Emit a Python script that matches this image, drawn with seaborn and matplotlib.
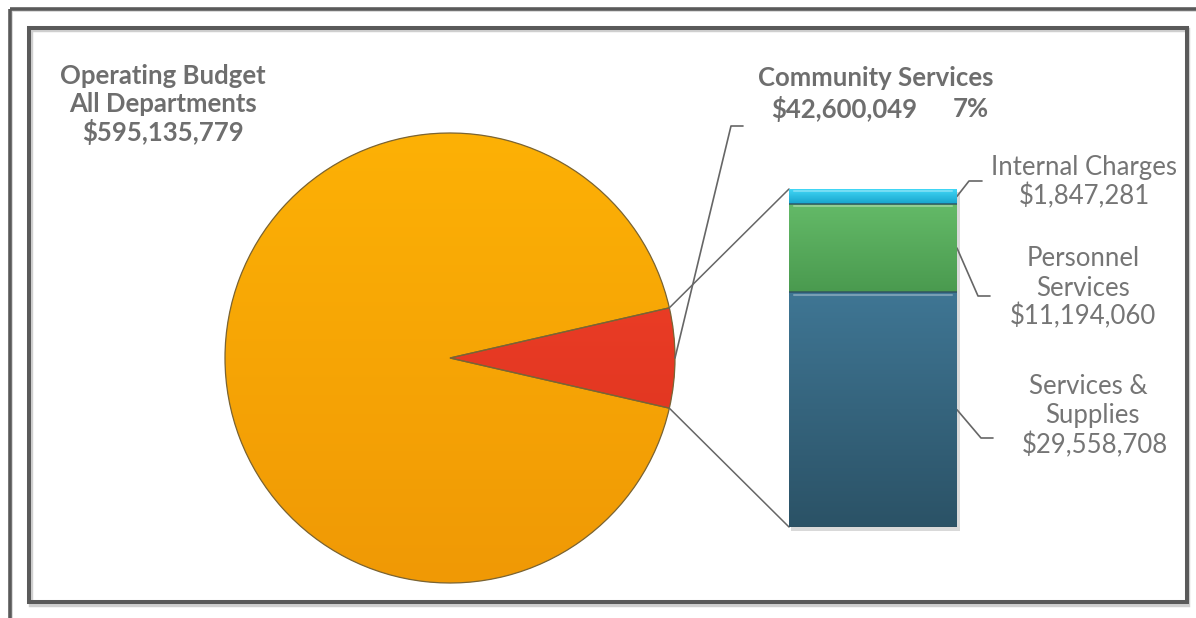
import numpy as np
import matplotlib
matplotlib.use("Agg")
import matplotlib.pyplot as plt
import seaborn as sns
import pandas as pd
from matplotlib.patches import Rectangle, Wedge
from matplotlib.colors import LinearSegmentedColormap

# ---- Budget figures -------------------------------------------------------
total_label = ["Operating Budget", "All Departments"]
total_budget = 595_135_779
department = "Community Services"
department_budget = 42_600_049

categories = ["Services & Supplies", "Personnel Services", "Internal Charges"]
amounts = [29_558_708, 11_194_060, 1_847_281]

# ---- Style ----------------------------------------------------------------
W, H = 1196, 618
sns.set_theme(style="white")
plt.rcParams["font.family"] = ["Lato", "DejaVu Sans"]

TEXT = "#6e6e6e"
LABEL = "#757575"
LEADER = "#666666"
FRAME = "#5a5a5a"
ORANGE = ("#fdb106", "#f09905")
RED = ("#f4432a", "#d8301d")
SEG_COLORS = ["#36657e", "#56a95b", "#2cc2ea"]
SEG_GRAD = [("#3f7694", "#2b5266"), ("#64ba68", "#4a9a4f"), ("#40d7f6", "#18a3cc")]
TITLE_SIZE = 18.5
LABEL_SIZE = 18.5

fig = plt.figure(figsize=(W / 100, H / 100), dpi=100)
fig.patch.set_facecolor("white")
ax = fig.add_axes([0, 0, 1, 1])

# ---- Frames (pixel coordinates, y grows downward) -------------------------
ax.plot([9.5, W + 5], [8.5, 8.5], color=FRAME, lw=2.6, solid_capstyle="butt", zorder=1)
ax.plot([9.5, 9.5], [8.5, H + 5], color=FRAME, lw=2.6, solid_capstyle="butt", zorder=1)
ax.plot([12, W + 5], [11, 11], color="#d4d4d4", lw=1.2, zorder=0.9)
ax.plot([12, 12], [11, H + 5], color="#d4d4d4", lw=1.2, zorder=0.9)
ax.add_patch(Rectangle((30.5, 29.5), 1158 - 0.5, 575, fill=False,
                       edgecolor="#cfcfcf", lw=3.2, zorder=0.9))
ax.add_patch(Rectangle((29, 28), 1158, 574, fill=False,
                       edgecolor=FRAME, lw=2.9, zorder=1))

# ---- Pie ------------------------------------------------------------------
cx, cy, R = 450, 358, 225
pie_values = [department_budget, total_budget - department_budget]
half = 360 * department_budget / total_budget / 2
wedges, _ = ax.pie(pie_values, colors=[RED[0], ORANGE[0]], startangle=-half,
                   center=(cx, cy), radius=R, frame=True,
                   wedgeprops=dict(edgecolor="none", linewidth=0))

grad = np.linspace(0, 1, 256).reshape(-1, 1)
for wedge, (c_top, c_bot) in zip(wedges, [RED, ORANGE]):
    cmap = LinearSegmentedColormap.from_list("shade", [c_top, c_bot])
    im = ax.imshow(grad, cmap=cmap, extent=[cx - R, cx + R, cy + R, cy - R],
                   origin="upper", aspect="auto", interpolation="bilinear",
                   zorder=2)
    im.set_clip_path(wedge)
    ax.add_patch(Wedge(wedge.center, wedge.r, wedge.theta1, wedge.theta2,
                       fill=False, edgecolor="#7a6434", lw=0.9, zorder=3))

# ---- Stacked bar -----------------------------------------------------------
BAR_L, BAR_R, BAR_TOP, BAR_BOT = 789, 957, 189, 527
bax = fig.add_axes([BAR_L / W, (H - BAR_BOT) / H, (BAR_R - BAR_L) / W,
                    (BAR_BOT - BAR_TOP) / H])
bax.set_facecolor("none")

df = pd.DataFrame({"group": department, "category": categories, "amount": amounts})
df["cum"] = df["amount"].cumsum()
df["base"] = df["cum"] - df["amount"]
stack_total = df["cum"].iloc[-1]

# Layered cumulative bars: tallest first, each shorter one drawn on top
for i in reversed(range(len(df))):
    sns.barplot(x=[department], y=[df["cum"].iloc[i]], color=SEG_COLORS[i],
                saturation=1, width=1.0, ax=bax, edgecolor="none", linewidth=0)

for i, (c_top, c_bot) in enumerate(SEG_GRAD):
    lo, hi = df["base"].iloc[i], df["cum"].iloc[i]
    cmap = LinearSegmentedColormap.from_list("shade", [c_top, c_bot])
    bax.imshow(grad, cmap=cmap, extent=[-0.5, 0.5, lo, hi], origin="upper",
               aspect="auto", interpolation="bilinear", zorder=3)
    # bevel: light top edge and darker bottom edge of each segment
    bax.plot([-0.47, 0.47], [hi - stack_total * 0.006] * 2,
             color="white", alpha=0.3, lw=1.5, zorder=4)
    bax.plot([-0.5, 0.5], [lo, lo], color="#2f4f5f", alpha=0.7, lw=1.4, zorder=4)

bax.set_xlim(-0.5, 0.5)
bax.set_ylim(0, stack_total)
bax.axis("off")

# soft shadow behind the bar
ax.add_patch(Rectangle((BAR_L + 2, BAR_TOP + 3), BAR_R - BAR_L + 1, BAR_BOT - BAR_TOP + 1,
                       facecolor="#d9d9d9", edgecolor="none", zorder=1.5))

# ---- Connector lines between pie slice and bar ----------------------------
t = np.deg2rad(half)
slice_top = (cx + R * np.cos(t), cy - R * np.sin(t))
slice_bot = (cx + R * np.cos(t), cy + R * np.sin(t))
ax.plot([slice_top[0], BAR_L], [slice_top[1], BAR_TOP], color=LEADER, lw=1.1, zorder=4)
ax.plot([slice_bot[0], BAR_L], [slice_bot[1], BAR_BOT], color=LEADER, lw=1.1, zorder=4)

# ---- Labels ---------------------------------------------------------------
def lines(x, ys, texts, **kw):
    for y, s in zip(ys, texts):
        ax.text(x, y, s, ha="center", va="center", **kw)

bold = dict(color=TEXT, fontsize=TITLE_SIZE, fontweight="bold")
light = dict(color=LABEL, fontsize=LABEL_SIZE, fontweight="normal")

lines(163, [76, 104, 132], total_label + [f"${total_budget:,}"], **bold)

pct = round(100 * department_budget / total_budget)
ax.text(876, 78, department, ha="center", va="center", **bold)
ax.text(844, 109, f"${department_budget:,}", ha="center", va="center", **bold)
ax.text(971, 109, f"{pct}%", ha="center", va="center", **bold)

# leader from pie slice to department label
ax.plot([cx + R, 731, 743], [cy, 126, 126], color=LEADER, lw=1.2, zorder=4)

px_per_unit = (BAR_BOT - BAR_TOP) / stack_total
mid_y = [BAR_BOT - (b + a / 2) * px_per_unit for b, a in zip(df["base"], df["amount"])]

# Services & Supplies
ax.plot([BAR_R, 981, 993], [mid_y[0], 438, 438], color=LEADER, lw=1.2, zorder=4)
ax.text(1088, 387, "Services &", ha="center", va="center", **light)
ax.text(1092, 415, "Supplies", ha="center", va="center", **light)
ax.text(1095, 445, f"${amounts[0]:,}", ha="center", va="center", **light)

# Personnel Services
ax.plot([BAR_R, 978, 990], [mid_y[1], 296, 296], color=LEADER, lw=1.2, zorder=4)
lines(1083, [259, 288, 316], ["Personnel", "Services", f"${amounts[1]:,}"], **light)

# Internal Charges
ax.plot([BAR_R, 969, 982], [mid_y[2], 181, 181], color=LEADER, lw=1.2, zorder=4)
lines(1084, [167, 196], ["Internal Charges", f"${amounts[2]:,}"], **light)

ax.set_xlim(0, W)
ax.set_ylim(H, 0)
ax.axis("off")

fig.savefig("out.png", dpi=100, facecolor="white")
